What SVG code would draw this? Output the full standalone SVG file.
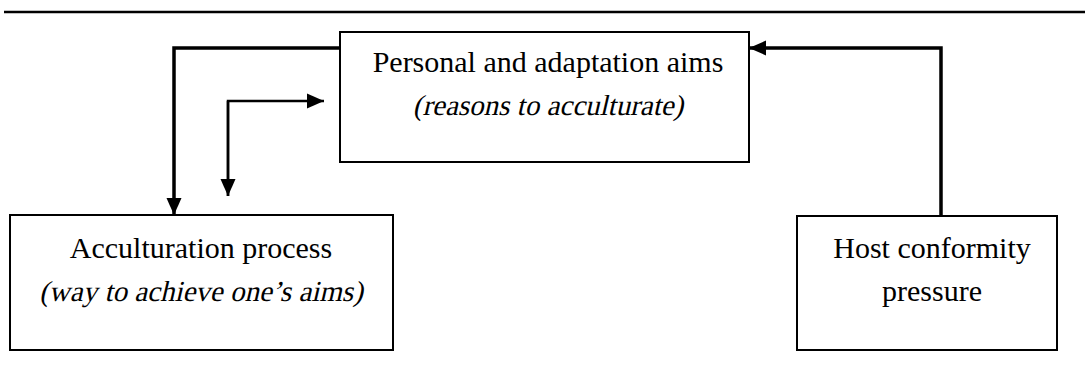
<svg xmlns="http://www.w3.org/2000/svg" width="1085" height="367" viewBox="0 0 1085 367">
  <style>
    .box { fill: #ffffff; stroke: #000000; stroke-width: 2; }
    .txt { font-family: "Liberation Serif", serif; font-size: 30px; fill: #000000; text-anchor: middle; }
    .it { font-size: 29px; }
    .thick { fill: none; stroke: #000000; stroke-width: 3.5; }
    .thin { fill: none; stroke: #000000; stroke-width: 2.5; }
  </style>
  <defs>
    <marker id="ah" markerUnits="userSpaceOnUse" markerWidth="18" markerHeight="18" viewBox="0 0 18 18" refX="17" refY="9" orient="auto">
      <path d="M0,1.5 L17,9 L0,16.5 Z" fill="#000000"/>
    </marker>
  </defs>
  <rect width="1085" height="367" fill="#ffffff"/>
  <line x1="4" y1="12" x2="1085" y2="12" stroke="#000000" stroke-width="2.5"/>

  <g id="personal-aims">
    <rect class="box" x="340" y="32" width="409" height="130"/>
    <text class="txt" x="548" y="72">Personal and adaptation aims</text>
    <text class="txt it" transform="translate(548,115) skewX(-13)" x="0" y="0">(reasons to acculturate)</text>
  </g>

  <g id="acculturation-process">
    <rect class="box" x="10" y="215" width="383" height="135"/>
    <text class="txt" x="201" y="258">Acculturation process</text>
    <text class="txt it" transform="translate(201,301) skewX(-13)" x="0" y="0">(way to achieve one’s aims)</text>
  </g>

  <g id="host-conformity">
    <rect class="box" x="797" y="216" width="260" height="134"/>
    <text class="txt" x="932" y="258">Host conformity</text>
    <text class="txt" x="932" y="301">pressure</text>
  </g>

  <g id="connectors">
    <path class="thick" d="M340,48 L174,48 L174,215" marker-end="url(#ah)"/>
    <path class="thin" d="M228,196 L228,101 L324,101" marker-end="url(#ah)"/>
    <path class="thin" d="M228,101 L228,196" marker-end="url(#ah)"/>
    <path class="thick" d="M941,216 L941,48 L749,48" marker-end="url(#ah)"/>
  </g>
</svg>
